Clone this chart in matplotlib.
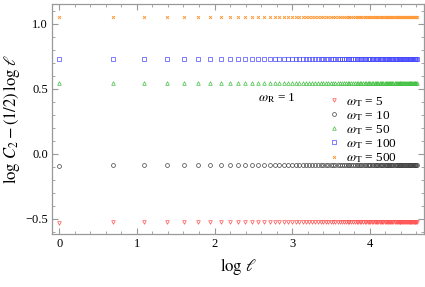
import numpy as np
import matplotlib
matplotlib.use("Agg")
import matplotlib.pyplot as plt
from matplotlib.ticker import MultipleLocator

plt.rcParams['font.family'] = ['Liberation Serif', 'DejaVu Serif']
plt.rcParams['mathtext.fontset'] = 'stix'

# ell = 1..100, plotted against log(ell)
ell = np.arange(1, 101)

# (values are flat after the first point or two)
vals_w5 = [-0.535, -0.527] + [-0.525] * 98
vals_w10 = [-0.094] + [-0.089] * 99
vals_w50 = [0.546] * 100
vals_w100 = [0.728] * 100
vals_w500 = [1.055] * 100

labels = [r'$\omega_{\rm T}$ = 5', r'$\omega_{\rm T}$ = 10', r'$\omega_{\rm T}$ = 50',
          r'$\omega_{\rm T}$ = 100', r'$\omega_{\rm T}$ = 500']
series = [vals_w5, vals_w10, vals_w50, vals_w100, vals_w500]
colors = ['#ff5050', '#404040', '#40c040', '#4848ff', '#ff9a3a']
markers = ['v', 'o', '^', 's', 'x']
msizes = [2.6, 2.8, 2.6, 2.2, 2.0]

fig = plt.figure(figsize=(4.25, 2.87), dpi=100)
ax = fig.add_axes([52/425, 53/287, 372/425, 230/287])

x = np.log(ell)
for vals, lab, c, m, ms in zip(series, labels, colors, markers, msizes):
    if m == 'x':
        ax.plot(x, vals, ls='none', marker=m, ms=ms, color=c, mew=0.7, label=lab)
    else:
        ax.plot(x, vals, ls='none', marker=m, ms=ms, mfc='none', mec=c, mew=0.5, label=lab)

ax.set_xlim(-0.092, 4.697)
ax.set_ylim(-0.618, 1.154)
ax.xaxis.set_major_locator(MultipleLocator(1))
ax.xaxis.set_minor_locator(MultipleLocator(0.2))
ax.yaxis.set_major_locator(MultipleLocator(0.5))
ax.yaxis.set_minor_locator(MultipleLocator(0.1))
ax.set_xticks([0, 1, 2, 3, 4])
ax.set_xticklabels(['0', '1', '2', '3', '4'])
ax.set_yticks([-0.5, 0.0, 0.5, 1.0])
ax.set_yticklabels(['\u22120.5', '0.0', '0.5', '1.0'])

for sp in ax.spines.values():
    sp.set_color('#999999')
    sp.set_linewidth(0.9)
ax.tick_params(which='both', direction='in', top=True, right=True, color='#999999',
               labelsize=9, pad=3)
ax.tick_params(which='major', length=4, width=0.8)
ax.tick_params(which='minor', length=2, width=0.6)

ax.set_xlabel(r'$\log\,\ell$', fontsize=12, labelpad=4)
ax.set_ylabel(r'$\log\,C_2-(1/2)\,\log\,\ell$', fontsize=12, labelpad=2)

ax.text(0.605, 0.59, r'$\omega_{\rm R}$ = 1', transform=ax.transAxes,
        fontsize=9.5, ha='center', va='center')

ax.legend(loc='upper left', bbox_to_anchor=(0.72, 0.645), frameon=False,
          fontsize=9.5, handlelength=0.8, handletextpad=0.5, labelspacing=0.02,
          borderpad=0.2)

fig.savefig('out.png', dpi=100)
